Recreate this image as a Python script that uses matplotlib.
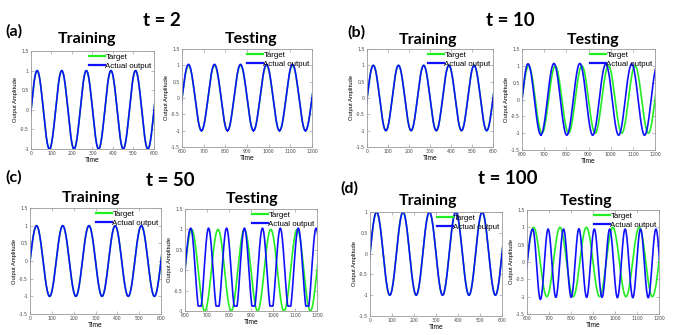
import numpy as np
import matplotlib
matplotlib.use("Agg")
import matplotlib.pyplot as plt
from matplotlib.ticker import FormatStrFormatter

# extrema (time, value); knots outside the x-range get clipped
train_t = [-30, 30, 90, 150, 210, 270, 330, 390, 450, 510, 570, 630]
train_y = [-1, 1, -1, 1, -1, 1, -1, 1, -1, 1, -1, 1]

target_t = [570, 630, 690, 750, 810, 870, 930, 990, 1050, 1110, 1170, 1230]
target_y = [-1, 1, -1, 1, -1, 1, -1, 1, -1, 1, -1, 1]

# testing "Actual output" for t = 2, 10, 50, 100
act_a_t = [570, 630, 690, 750, 810, 870, 930, 990, 1050, 1110, 1170, 1230]
act_a_y = [-1, 1.03, -1, 1.03, -1, 1.03, -1, 1.03, -1, 1.03, -1, 1.03]

act_b_t = [573, 627, 685, 744, 802, 861, 919, 978, 1036, 1095, 1153, 1212]
act_b_y = [-1.05, 1.06, -1.05, 1.07, -1.06, 1.07, -1.06, 1.05, -1.06, 1.05, -1.06, 1.05]

act_c_t = [574, 626, 667, 707, 748, 789, 830, 870, 911, 952, 993, 1033, 1074, 1115, 1156, 1196, 1237]
act_c_y = [-1.03, 1.03, -1.03, 1.03, -1.03, 1.03, -1.03, 1.03, -1.03, 1.03, -1.03, 1.03, -1.03, 1.03, -1.03, 1.03, -1.03]
act_c_floor = -0.88  # troughs are flattened here

act_d_t = [574, 626, 661, 696, 731, 766, 801, 836, 871, 906, 941, 976, 1011, 1046, 1081, 1116, 1151, 1186, 1221]
act_d_y = [-1.05, 0.95, -1.08, 0.95, -1.02, 0.95, -1.02, 0.96, -1.02, 0.95, -1.02, 0.95, -1.03, 0.95, -1.03, 0.95, -1.03, 0.95, -1.03]

labels = ["(a)", "(b)", "(c)", "(d)"]
t_values = ["t = 2", "t = 10", "t = 50", "t = 100"]

W, H = 677, 335
fig = plt.figure(figsize=(W / 100, H / 100), dpi=100)


def wave(knot_t, knot_y, n=40):
    # half-cosine between consecutive extrema
    ts, ys = [], []
    for t0, t1, y0, y1 in zip(knot_t[:-1], knot_t[1:], knot_y[:-1], knot_y[1:]):
        s = np.linspace(0, 1, n)
        ts.append(t0 + (t1 - t0) * s)
        ys.append(y0 + (y1 - y0) * (1 - np.cos(np.pi * s)) / 2)
    return np.concatenate(ts), np.concatenate(ys)


def px_axes(l, t, r, b):
    return fig.add_axes([l / W, 1 - b / H, (r - l) / W, (b - t) / H])


def style(ax, xlim, ylim):
    ax.set_xlim(*xlim)
    ax.set_ylim(*ylim)
    ax.set_xticks(np.arange(xlim[0], xlim[1] + 1, 100))
    ax.set_yticks(np.arange(ylim[0], ylim[1] + 0.01, 0.5))
    ax.yaxis.set_major_formatter(FormatStrFormatter('%g'))
    ax.tick_params(direction='in', length=2, width=0.4, labelsize=3.3,
                   labelcolor='#444444', color='#888888', pad=1.5,
                   top=True, right=True)
    for sp in ax.spines.values():
        sp.set_color('#999999')
        sp.set_linewidth(0.6)
    ax.set_xlabel("Time", fontsize=4.8, labelpad=1, family="Liberation Sans")
    ax.set_ylabel("Output Amplitude", fontsize=4.2, labelpad=1.5, family="Liberation Sans")


def draw(ax, tt, ty, at, ay, floor=None):
    x1, y1 = wave(tt, ty)
    x2, y2 = wave(at, ay)
    if floor is not None:
        y2 = np.maximum(y2, floor)
    ax.plot(x1, y1, color='#22ee22', lw=1.2, label='Target')
    ax.plot(x2, y2, color='#1010ff', lw=1.2, label='Actual output')
    leg = ax.legend(loc='upper right', frameon=False, fontsize=5.7,
                    borderaxespad=0.1, borderpad=0.2, handlelength=2.0,
                    handletextpad=0.1, labelspacing=0.15,
                    prop={'family': 'Liberation Sans', 'size': 5.7})
    for h in leg.legend_handles:
        h.set_linewidth(1.6)


train_boxes = [(31, 51, 154, 149), (367, 49, 493, 147), (30, 208, 161, 314), (370, 212, 502, 316)]
test_boxes = [(182, 49, 312, 147), (522, 49, 655, 150), (185, 209, 317, 311), (527, 210, 659, 314)]
train_ylims = [(-1, 1.5), (-1.5, 1.5), (-1.5, 1.5), (-1.5, 1)]
test_ylims = [(-1.5, 1.5), (-1.5, 1.5), (-1, 1.5), (-1.5, 1.5)]
actuals = [(act_a_t, act_a_y, None), (act_b_t, act_b_y, None),
           (act_c_t, act_c_y, act_c_floor), (act_d_t, act_d_y, None)]

for i in range(4):
    ax = px_axes(*train_boxes[i])
    draw(ax, train_t, train_y, train_t, train_y)
    style(ax, (0, 600), train_ylims[i])

    ax = px_axes(*test_boxes[i])
    at, ay, fl = actuals[i]
    draw(ax, target_t, target_y, at, ay, fl)
    style(ax, (600, 1200), test_ylims[i])

# panel texts (pixel centres)
bold = dict(family="Lato", weight="bold", ha="center", va="center", color="black")
label_pos = [(14, 31), (356, 32), (14, 177), (349, 188)]
t_pos = [(162, 20), (510, 20), (170, 180), (508, 179)]
train_pos = [(87, 39), (428, 40), (91, 198), (428, 201)]
test_pos = [(251, 39), (593, 40), (252, 199), (586, 201)]

for i in range(4):
    fig.text(label_pos[i][0] / W, 1 - label_pos[i][1] / H, labels[i], fontsize=11.5, **bold)
    fig.text(t_pos[i][0] / W, 1 - t_pos[i][1] / H, t_values[i], fontsize=13.5, **bold)
    fig.text(train_pos[i][0] / W, 1 - train_pos[i][1] / H, "Training", fontsize=11.5, **bold)
    fig.text(test_pos[i][0] / W, 1 - test_pos[i][1] / H, "Testing", fontsize=11.5, **bold)

fig.savefig("out.png", dpi=100)
